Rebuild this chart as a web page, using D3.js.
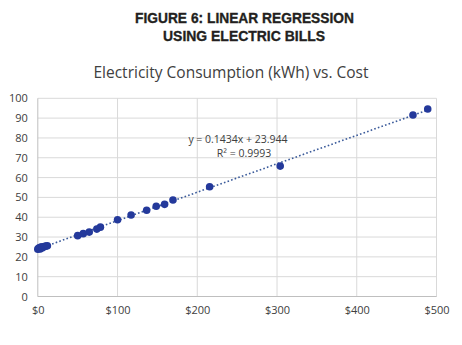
<!DOCTYPE html>
<html>
<head>
<meta charset="utf-8">
<script src="https://cdnjs.cloudflare.com/ajax/libs/d3/7.8.5/d3.min.js"></script>
<style>
  body { margin: 0; background: #fff; }
  svg { display: block; }
</style>
</head>
<body>
<div id="chart"></div>
<script>
// monthly bills: cost in dollars vs. consumption
var cost = [0, 1, 2, 3, 4, 5, 6, 8, 10, 12, 50, 57, 64.5, 74, 78.5, 100, 117, 136.5, 148.5, 159, 169.5, 215.5, 304, 470.5, 489];
var kwh  = [23.9, 24.3, 24.6, 24.0, 24.9, 25.0, 24.6, 25.2, 25.4, 25.6, 30.7, 31.7, 32.5, 34.0, 35.0, 38.7, 41.1, 43.5, 45.5, 46.5, 48.7, 55.4, 65.8, 91.6, 94.6];
var xTicks = [0, 100, 200, 300, 400, 500];
var yTicks = [0, 10, 20, 30, 40, 50, 60, 70, 80, 90, 100];
var slope = 0.1434, intercept = 23.944, r2 = 0.9993;

var width = 462, height = 345;

var svg = d3.select("#chart")
  .append("svg")
    .attr("width", width)
    .attr("height", height);

var x = d3.scaleLinear().domain([0, 500]).range([37.8, 436.5]);
var y = d3.scaleLinear().domain([0, 100]).range([296.5, 98.3]);

// headline, squeezed to a condensed look
var headLines = [
  { text: "FIGURE 6: LINEAR REGRESSION", x: 135, y: 23.3, w: 219 },
  { text: "USING ELECTRIC BILLS", x: 163, y: 40.7, w: 162 }
];
svg.append("g")
  .selectAll("text")
  .data(headLines)
  .enter().append("text")
    .attr("x", function(d) { return d.x; })
    .attr("y", function(d) { return d.y; })
    .attr("textLength", function(d) { return d.w; })
    .attr("lengthAdjust", "spacingAndGlyphs")
    .attr("font-family", "'Liberation Sans', 'DejaVu Sans', sans-serif")
    .attr("font-weight", "bold")
    .attr("font-size", 15.5)
    .attr("fill", "#231f20")
    .attr("stroke", "#231f20")
    .attr("stroke-width", 0.35)
    .text(function(d) { return d.text; });

svg.append("text")
    .attr("x", 231)
    .attr("y", 77.5)
    .attr("text-anchor", "middle")
    .attr("font-family", "'Open Sans', sans-serif")
    .attr("font-size", 15.5)
    .attr("fill", "#404040")
    .text("Electricity Consumption (kWh) vs. Cost");

// grid
svg.append("g")
  .selectAll("line")
  .data(yTicks)
  .enter().append("line")
    .attr("x1", x(0)).attr("x2", x(500))
    .attr("y1", function(d) { return y(d); })
    .attr("y2", function(d) { return y(d); })
    .attr("stroke", "#d9d9d9")
    .attr("stroke-width", 1);

svg.append("g")
  .selectAll("line")
  .data(xTicks)
  .enter().append("line")
    .attr("x1", function(d) { return x(d); })
    .attr("x2", function(d) { return x(d); })
    .attr("y1", y(0)).attr("y2", y(100))
    .attr("stroke", function(d) { return d == 0 ? "#bfbfbf" : "#d9d9d9"; })
    .attr("stroke-width", 1);

svg.append("line")
    .attr("x1", x(0)).attr("x2", x(500))
    .attr("y1", y(0)).attr("y2", y(0))
    .attr("stroke", "#bfbfbf");

// axes labels
var yAxis = svg.append("g")
    .attr("transform", "translate(" + (x(0) - 10) + ",0)")
    .call(d3.axisLeft(y).tickValues(yTicks).tickSize(0).tickPadding(0));
yAxis.select(".domain").remove();
yAxis.selectAll("text")
    .attr("font-family", "'Open Sans', sans-serif")
    .attr("font-size", 11)
    .attr("fill", "#404040");

var xAxis = svg.append("g")
    .attr("transform", "translate(0," + (y(0) + 10) + ")")
    .call(d3.axisBottom(x).tickValues(xTicks).tickSize(0).tickPadding(0)
      .tickFormat(function(d) { return "$" + d; }));
xAxis.select(".domain").remove();
xAxis.selectAll("text")
    .attr("font-family", "'Open Sans', sans-serif")
    .attr("font-size", 11)
    .attr("fill", "#404040");

// trend line
svg.append("line")
    .attr("x1", x(0)).attr("y1", y(intercept))
    .attr("x2", x(490)).attr("y2", y(slope * 490 + intercept))
    .attr("stroke", "#3a5a9a")
    .attr("stroke-width", 1.6)
    .attr("stroke-dasharray", "1.6 2.2");

// points
svg.append("g")
  .selectAll("circle")
  .data(d3.range(cost.length))
  .enter().append("circle")
    .attr("cx", function(i) { return x(cost[i]); })
    .attr("cy", function(i) { return y(kwh[i]); })
    .attr("r", 3.8)
    .attr("fill", "#24399b");

// regression label
var eq = svg.append("text")
    .attr("text-anchor", "middle")
    .attr("font-family", "'Open Sans', sans-serif")
    .attr("font-size", 10.5)
    .attr("fill", "#404040");
eq.append("tspan").attr("x", 238).attr("y", 142.5)
    .text("y = " + slope + "x + " + intercept);
eq.append("tspan").attr("x", 244).attr("y", 156.5)
    .text("R\u00b2 = " + r2);
</script>
</body>
</html>
